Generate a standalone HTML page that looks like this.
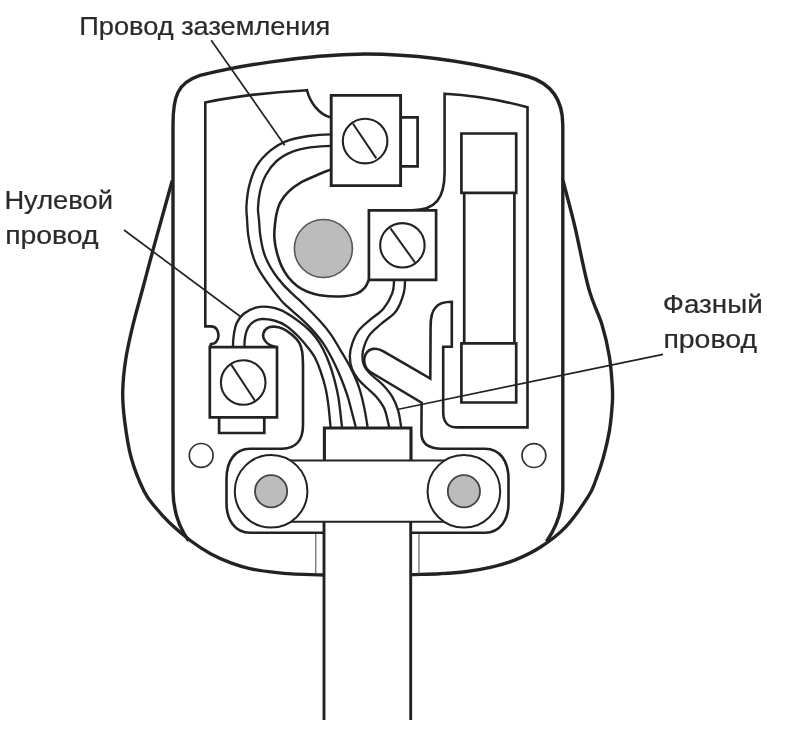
<!DOCTYPE html>
<html><head><meta charset="utf-8"><title>plug</title>
<style>
html,body{margin:0;padding:0;background:#fff;}
body{width:790px;height:730px;overflow:hidden;font-family:"Liberation Sans",sans-serif;}
svg{display:block;}
text{font-family:"Liberation Sans",sans-serif;fill:#2b2b2b;stroke:#2b2b2b;stroke-width:0.22px;}
</style></head><body>
<svg width="790" height="730" viewBox="0 0 790 730">
<rect width="790" height="730" fill="#fff"/>
<defs><filter id="bl" x="-2%" y="-2%" width="104%" height="104%"><feGaussianBlur stdDeviation="0.6"/></filter></defs>
<g filter="url(#bl)">
<g fill="none" stroke="#242424" stroke-linecap="butt" stroke-linejoin="miter">
<path d="M563.0,180.5 C566.8,195.3 570.2,207.0 574.5,225.0 C578.8,243.0 584.1,271.8 588.7,288.4 C593.3,305.0 598.5,313.3 602.0,324.7 C605.5,336.1 607.7,346.5 609.4,356.8 C611.1,367.1 611.8,378.6 612.3,386.4 C612.8,394.2 612.8,396.3 612.3,403.7 C611.8,411.1 610.9,421.8 609.4,430.9 C607.9,439.9 605.5,449.8 603.2,458.0 C600.9,466.2 598.3,473.6 595.8,480.0 C593.3,486.4 593.3,488.6 588.3,496.4 C583.3,504.2 573.8,518.4 565.8,526.8 C557.8,535.2 549.0,541.5 540.6,547.0 C532.2,552.5 523.8,556.4 515.4,559.8 C507.0,563.2 498.7,565.4 490.3,567.4 C481.9,569.4 473.6,570.7 465.2,571.7 C456.8,572.8 449.1,573.2 440.0,573.7 C430.9,574.2 420.5,574.3 410.7,574.6" stroke-width="3.4" />
<path d="M172.3,180.5 C168.6,193.7 164.5,208.5 161.3,220.0 C158.1,231.5 156.1,238.5 153.1,249.6 C150.1,260.7 146.5,274.3 143.2,286.7 C139.9,299.1 136.2,311.8 133.3,323.7 C130.4,335.6 127.7,346.9 125.9,358.3 C124.1,369.7 122.9,381.5 122.7,392.0 C122.5,402.5 123.3,410.2 124.7,421.2 C126.1,432.1 127.9,446.0 131.2,457.7 C134.4,469.4 140.1,483.1 144.2,491.5 C148.3,499.9 151.7,502.7 156.0,508.0 C160.3,513.3 164.3,517.9 170.0,523.3 C175.7,528.7 183.6,535.4 190.3,540.5 C197.1,545.6 203.8,550.0 210.5,553.7 C217.2,557.4 224.1,560.3 230.8,562.8 C237.6,565.3 244.2,567.4 251.0,568.9 C257.8,570.4 264.6,571.1 271.3,571.9 C278.1,572.7 282.7,573.4 291.5,573.9 C300.3,574.4 313.2,574.6 324.0,575.0" stroke-width="3.4" />
<path d="M188.6,540.8 C181,530 173,514 173,490 L173,125 C173,96 177.5,83 200,75.4 C235,66.7 300,55 365,54 C420,54 480,64 528,76.5 C548,82.5 562.8,96 562.8,125 L562.8,490 C562.8,514 554.5,530 546.5,541.5" stroke-width="3.4" />
<path d="M324,521.6 L324,720" stroke-width="2.9" />
<path d="M410.7,521.6 L410.7,720" stroke-width="2.9" />
<path d="M315.8,533 L315.8,574" stroke-width="1.0" stroke="#444"/>
<path d="M419,533 L419,574" stroke-width="1.0" stroke="#444"/>
<path d="M331,117.6 C319,114.5 310,102.5 307,90.2 Q251,93 205.3,102.4 L205.3,326.4 L211,326.4 C221,326.4 221,344 211,344 L210.1,347.2" stroke-width="2.6" />
<path d="M331.0,169.4 C326.1,171.4 321.2,173.3 316.2,175.5 C311.2,177.7 305.6,179.7 301.0,182.3 C296.4,185.0 292.2,188.1 288.8,191.4 C285.4,194.7 282.6,198.3 280.5,202.1 C278.4,205.9 277.4,210.0 276.5,214.0 C275.6,218.0 275.2,222.0 274.8,226.0 C274.4,230.0 274.1,233.9 274.4,238.2 C274.7,242.5 275.5,247.3 276.7,251.9 C277.9,256.5 279.4,261.4 281.3,265.6 C283.2,269.8 285.5,273.6 288.1,277.0 C290.8,280.4 294.0,283.6 297.2,286.1 C300.4,288.6 303.7,290.3 307.5,291.8 C311.3,293.3 314.6,294.4 320.0,295.2 C325.4,296.0 333.6,296.7 339.6,296.5 C345.6,296.3 351.9,295.4 356.1,293.9 C360.3,292.4 362.8,290.0 364.9,287.6 C367.0,285.2 367.6,282.4 368.9,279.8" stroke-width="2.6" />
<path d="M277.1,347.2 C274.6,346.4 271.6,346.2 269.5,344.9 C267.4,343.6 265.2,341.4 264.2,339.5 C263.2,337.6 262.9,335.4 263.4,333.5 C263.9,331.6 265.4,329.2 267.2,328.1 C269.0,327.0 271.4,326.5 274.1,326.6 C276.8,326.7 280.2,327.5 283.2,328.9 C286.2,330.3 289.6,332.7 292.3,335.0 C295.0,337.3 297.6,339.8 299.2,342.6 C300.8,345.4 301.6,348.1 302.2,351.7 C302.8,355.2 302.7,359.8 303.0,363.9 L303,425 C303,440 296,448.7 282,448.7 L250,448.7 C235,448.7 226.5,461 226.5,479 L226.5,503 C226.5,520 235,532.7 250,532.7 L324,532.7" stroke-width="2.6" />
<path d="M411,532.7 L485,532.7 C500,532.7 508.5,520 508.5,503 L508.5,479 C508.5,461 500,448.7 485,448.7 L442,448.7 C427,448.7 421.4,443 421.4,433 L421.6,402.7 L370.4,372 C364,368 363,360 365.5,354.5 C369,347.5 377,347.5 383,351.2 L430.3,378.6 L430.6,326 C430.6,309.5 436,301.8 451.8,301.8 L451.8,346.8 L443.2,346.8 L443.2,412 C443.2,423 448,427.4 458,427.4 L527.5,427.4 L527.5,107.2 Q486,95.9 444.6,93.7 L444.6,172 C444.6,198 436,210.3 412,210.3" stroke-width="2.6" />
<path d="M461.4,133.5 H516.2 V192.9 H461.4 Z" stroke-width="2.7" />
<path d="M464.2,192.9 V343.4 M514.4,192.9 V343.4" stroke-width="2.7" />
<path d="M461.4,343.4 H516.2 V402.5 H461.4 Z" stroke-width="2.7" />
<path d="M331.2,95.4 H400.6 V185.6 H331.2 Z" stroke-width="2.9" fill="#fff"/>
<circle cx="365.1" cy="141.1" r="22.3" stroke-width="2.1"/>
<path d="M353.0,123.7 L376.3,158.4" stroke-width="2.0" />
<path d="M400.6,117.4 H417.6 V166.4 H400.6" stroke-width="2.7" />
<path d="M368.9,210.3 H436.1 V279.8 H368.9 Z" stroke-width="2.7" fill="#fff"/>
<circle cx="402.4" cy="245.3" r="22.2" stroke-width="2.1"/>
<path d="M390.5,228.3 L415.0,262.5" stroke-width="2.0" />
<path d="M209.8,347.2 H277.0 V417.3 H209.8 Z" stroke-width="2.7" fill="#fff"/>
<circle cx="243.2" cy="382.5" r="22.3" stroke-width="2.1"/>
<path d="M230.7,363.9 L255.3,401.3" stroke-width="2.0" />
<path d="M219.1,417.3 V433 H264.3 V417.3" stroke-width="2.7" />
<circle cx="323.4" cy="248.5" r="29" fill="#bcbcbc" stroke="#555" stroke-width="1.6"/>
<path d="M331.0,134.4 C323.5,134.4 316.1,134.8 308.6,136.0 C301.1,137.2 292.1,138.9 285.8,141.3 C279.5,143.7 275.4,146.4 270.6,150.4 C265.8,154.4 260.4,159.8 256.9,165.6 C253.3,171.4 251.0,178.8 249.3,185.4 C247.6,192.0 246.9,199.2 246.5,205.0 C246.1,210.8 246.8,215.0 247.1,220.0 C247.4,225.0 247.5,229.9 248.2,234.8 C248.9,239.7 249.9,244.8 251.1,249.6 C252.3,254.3 253.8,259.1 255.6,263.3 C257.4,267.5 259.5,270.9 261.9,274.7 C264.3,278.5 267.2,282.5 269.9,286.1 C272.5,289.7 275.2,293.2 277.8,296.3 C280.4,299.4 281.2,300.9 285.2,304.7 C289.2,308.5 297.2,315.1 301.6,319.2 C306.0,323.3 308.2,325.4 311.8,329.4 C315.4,333.4 319.8,338.4 323.2,343.3 C326.6,348.2 329.5,353.7 332.0,358.5 C334.5,363.3 336.4,367.4 338.4,372.0 C340.4,376.6 342.3,381.3 344.0,386.0 C345.7,390.7 346.8,393.2 348.7,400.0 C350.6,406.8 353.4,418.0 355.7,427.0" stroke-width="2.35" />
<path d="M331.0,145.8 C324.0,145.8 316.6,146.4 310.1,147.4 C303.6,148.4 297.5,149.6 291.9,151.9 C286.3,154.2 281.0,157.2 276.7,161.0 C272.4,164.8 268.8,169.6 266.0,174.7 C263.2,179.8 261.3,185.8 260.0,191.4 C258.7,197.0 258.2,203.2 258.0,208.0 C257.8,212.8 258.6,215.5 259.0,220.0 C259.4,224.5 259.5,229.9 260.2,234.8 C260.9,239.7 261.8,245.0 263.0,249.6 C264.2,254.2 265.7,258.1 267.6,262.1 C269.5,266.1 271.8,269.7 274.4,273.5 C277.0,277.3 280.3,281.3 283.5,284.9 C286.7,288.5 290.7,292.2 293.8,295.2 C296.9,298.2 297.8,298.6 302.3,303.0 C306.8,307.4 315.9,316.6 320.6,321.8 C325.4,327.0 327.4,329.5 330.8,334.4 C334.2,339.2 337.5,345.2 340.9,350.9 C344.3,356.6 348.1,362.8 351.0,368.6 C353.9,374.4 356.3,379.5 358.5,385.9 C360.7,392.3 362.6,400.0 364.1,406.9 C365.6,413.8 366.4,420.3 367.6,427.0" stroke-width="2.35" />
<path d="M233.0,347.0 C233.0,343.0 233.2,339.0 233.8,335.0 C234.4,331.0 235.2,326.4 236.8,322.8 C238.5,319.2 240.5,316.2 243.7,313.7 C246.9,311.2 251.8,308.8 255.8,307.6 C259.9,306.5 263.9,306.4 268.0,306.8 C272.1,307.2 276.1,308.2 280.2,309.9 C284.2,311.5 288.2,314.0 292.3,316.7 C296.4,319.4 300.7,322.6 304.5,325.9 C308.3,329.2 311.9,332.6 315.0,336.5 C318.1,340.4 320.6,344.4 323.0,349.0 C325.4,353.6 327.6,358.8 329.5,364.0 C331.4,369.2 333.0,374.3 334.5,380.0 C336.0,385.7 337.2,390.2 338.5,398.0 C339.8,405.8 340.8,417.3 342.0,427.0" stroke-width="2.35" />
<path d="M244.4,347.0 C244.4,343.5 244.6,339.8 245.2,336.5 C245.8,333.2 246.7,329.9 248.2,327.4 C249.7,324.9 252.0,322.7 254.3,321.3 C256.6,319.9 258.6,319.1 261.9,319.0 C265.2,318.9 270.0,319.4 274.1,320.5 C278.2,321.6 282.2,323.2 286.3,325.9 C290.4,328.6 294.8,332.9 298.4,336.5 C301.9,340.1 304.8,343.6 307.6,347.2 C310.4,350.8 312.9,353.8 315.0,357.8 C317.1,361.8 318.8,366.0 320.5,371.0 C322.2,376.0 324.1,382.0 325.5,388.0 C326.9,394.0 327.8,400.5 328.6,407.0 C329.4,413.5 329.9,420.3 330.5,427.0" stroke-width="2.35" />
<path d="M394.0,279.6 C394.0,284.2 394.0,288.5 392.2,293.4 C390.4,298.2 387.1,304.3 383.4,308.7 C379.7,313.1 374.1,316.2 370.0,319.9 C365.9,323.5 361.6,326.7 358.6,330.6 C355.7,334.5 353.8,339.1 352.3,343.3 C350.8,347.5 349.9,351.7 349.8,356.0 C349.8,360.3 350.6,365.2 352.0,369.0 C353.4,372.8 355.5,375.8 358.0,379.0 C360.5,382.2 363.9,385.0 367.0,388.0 C370.1,391.0 373.6,393.5 376.5,397.0 C379.4,400.5 382.4,404.0 384.5,409.0 C386.6,414.0 387.6,421.0 389.2,427.0" stroke-width="2.35" />
<path d="M405.0,279.6 C405.0,284.2 405.2,288.1 403.7,293.4 C402.2,298.7 399.8,306.1 396.0,311.2 C392.2,316.3 385.3,320.1 381.0,324.0 C376.7,327.9 372.8,330.8 370.0,334.4 C367.2,338.0 365.6,342.2 364.3,345.8 C363.0,349.4 362.4,352.6 362.4,356.0 C362.4,359.4 362.9,363.0 364.3,366.1 C365.7,369.2 368.0,371.4 371.0,374.5 C374.0,377.6 378.9,380.7 382.5,384.5 C386.1,388.3 389.9,392.7 392.5,397.1 C395.1,401.5 396.9,406.1 398.3,411.1 C399.8,416.1 400.2,421.7 401.2,427.0" stroke-width="2.35" />
<path d="M324.4,460.4 V428 H411 V460.4" stroke-width="3.1" />
<path d="M285,460.4 H450 M285,521.8 H450" stroke-width="2.0" />
<circle cx="271.1" cy="491.3" r="36.3" fill="#fff" stroke-width="2.0"/>
<circle cx="271.1" cy="491.3" r="16.1" fill="#bcbcbc" stroke="#444" stroke-width="1.8"/>
<circle cx="463.9" cy="491.3" r="36.3" fill="#fff" stroke-width="2.0"/>
<circle cx="463.9" cy="491.3" r="16.1" fill="#bcbcbc" stroke="#444" stroke-width="1.8"/>
<circle cx="201.2" cy="455.4" r="11.9" stroke="#333" stroke-width="1.7"/>
<circle cx="533.9" cy="455.6" r="11.9" stroke="#333" stroke-width="1.7"/>
<path d="M211.2,40.2 L284.7,145.2" stroke-width="1.7" />
<path d="M124,230 L240,316.3" stroke-width="1.7" />
<path d="M663,354.4 L397.3,409.5" stroke-width="1.7" />
</g>

<text x="79.3" y="35.2" font-size="26.2" textLength="251" lengthAdjust="spacingAndGlyphs">Провод заземления</text>
<text x="4.4" y="209" font-size="26.2" textLength="108.6" lengthAdjust="spacingAndGlyphs">Нулевой</text>
<text x="5.2" y="243.8" font-size="26.2" textLength="93.4" lengthAdjust="spacingAndGlyphs">провод</text>
<text x="662.8" y="312.8" font-size="26.2" textLength="100" lengthAdjust="spacingAndGlyphs">Фазный</text>
<text x="663.4" y="347.7" font-size="26.2" textLength="93.6" lengthAdjust="spacingAndGlyphs">провод</text>

</g>
</svg>
</body></html>
